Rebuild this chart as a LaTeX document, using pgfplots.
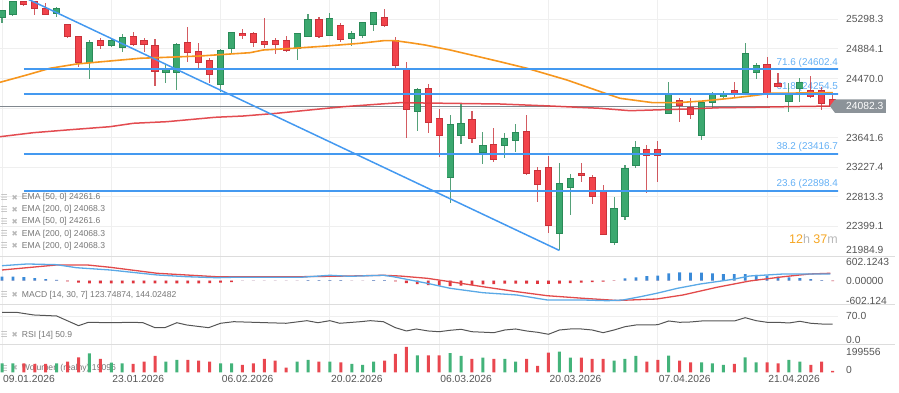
\documentclass[border=0pt]{standalone}
\usepackage{fontspec}
\setmainfont{Liberation Sans}
\newfontfamily\symfont{DejaVu Sans}
\usepackage{pgfplots}
\usepackage{pgfplotstable}
\pgfplotsset{compat=1.18}

\definecolor{cgreen}{HTML}{3BA86F}
\definecolor{cgreenD}{HTML}{2A8A58}
\definecolor{cred}{HTML}{F2434B}
\definecolor{credD}{HTML}{C8323A}
\definecolor{fib}{HTML}{4499F0}
\definecolor{fibtxt}{HTML}{64B0F5}
\definecolor{ema50}{HTML}{F6961E}
\definecolor{ema200}{HTML}{E0393E}
\definecolor{macdb}{HTML}{5AA9E6}
\definecolor{macdr}{HTML}{E24A4A}
\definecolor{histb}{HTML}{3A8AD8}
\definecolor{histr}{HTML}{E0353D}
\definecolor{vgreen}{HTML}{43B37A}
\definecolor{vred}{HTML}{E9474F}
\definecolor{lbl}{HTML}{555555}
\definecolor{leg}{HTML}{777777}
\definecolor{gridc}{HTML}{EFEFEF}
\definecolor{divc}{HTML}{DDDDDD}
\definecolor{pricel}{HTML}{80878E}
\definecolor{pricebox}{HTML}{8C9399}
\definecolor{timer}{HTML}{F5A623}

% up (green) candles
\pgfplotstableread{
i o h l c v
0 25320.7 25428.5 25242.3 25418.7 71500
1 25368.3 25561.5 25344.5 25544.7 71500
5 25382.3 25466.3 25326.3 25452.3 71500
8 24696.3 25008.5 24462.5 24970.7 149800
10 24928.7 25018.3 24906.3 24998.7 76400
11 24906.3 25088.3 24844.7 25040.7 71500
15 24556.3 24658.5 24402.3 24602.5 84200
16 24556.3 24962.3 24308.5 24948.3 97500
20 24388.3 24878.3 24284.7 24858.7 71500
21 24892.3 25124.7 24822.3 25116.3 71500
27 24892.3 25102.3 24728.5 25102.3 84200
28 25064.5 25372.5 25064.5 25288.5 97500
30 25078.5 25382.3 25064.5 25302.5 84200
32 25032.3 25138.7 24928.7 25092.5 66300
33 25078.5 25256.3 25032.3 25256.3 58500
34 25228.3 25396.3 25134.5 25396.3 84200
38 24004.7 24332.3 23738.7 24308.5 134200
41 23080.7 23958.5 22722.3 23828.3 151000
42 23678.5 24112.5 23548.3 23842.3 128700
44 23430.7 23716.3 23268.3 23534.3 115400
46 23528.7 23702.3 23352.3 23626.7 105300
47 23608.5 23832.5 23436.3 23716.3 84200
51 22302.3 23290.7 22068.5 22992.5 162200
52 22946.3 23128.3 22558.5 23066.7 115400
56 22170.7 22814.7 22138.5 22652.3 92000
57 22534.7 23258.5 22488.5 23212.3 105300
58 23258.5 23598.7 23212.3 23506.3 128700
61 23982.3 24424.7 23982.3 24238.5 131000
64 23678.5 24130.7 23608.5 24130.7 79600
65 24130.7 24284.7 24052.3 24248.3 71500
66 24214.7 24298.7 24192.3 24238.5 58500
68 24276.3 24970.7 24276.3 24822.3 118600
69 24550.7 24682.3 24458.3 24644.5 79600
72 24154.5 24402.3 24004.7 24238.5 97500
73 24332.3 24472.3 24144.7 24410.7 84200
}\upc

% down (red) candles
\pgfplotstableread{
i o h l c v
2 25544.7 25561.5 25484.5 25512.5 71500
3 25544.7 25561.5 25358.5 25452.3 66300
4 25442.5 25522.3 25368.3 25368.3 66300
6 25218.5 25218.5 25040.7 25064.5 84200
7 25054.7 25068.7 24634.7 24696.3 118600
9 24998.7 25040.7 24878.3 24928.7 105300
12 25054.7 25116.3 24928.7 24948.3 66300
13 24994.5 25040.7 24844.7 24952.5 84200
14 24928.7 25018.3 24368.7 24564.7 128700
17 24976.3 25186.3 24704.7 24836.3 97500
18 24844.7 24962.3 24612.3 24696.3 92000
19 24718.7 24752.3 24402.3 24532.5 84200
22 25096.7 25158.3 25018.3 25068.7 58500
23 25102.3 25124.7 24906.3 24976.3 71500
24 24980.5 25312.3 24892.3 24952.5 105300
25 24994.5 25040.7 24808.3 24952.5 92000
26 25004.3 25068.7 24844.7 24868.5 37400
29 25288.5 25326.3 25032.3 25064.5 84200
31 25204.5 25242.3 24984.7 25022.5 79600
35 25326.3 25442.5 25194.7 25208.7 92000
36 24998.7 25046.3 24612.3 24648.7 144300
37 24612.3 24696.3 23632.3 24042.5 198900
39 24332.3 24392.5 23702.3 23856.3 134200
40 23912.3 24038.3 23366.3 23668.7 134200
43 23898.3 24014.5 23562.3 23632.3 105300
45 23548.3 23772.3 23304.7 23338.3 105300
48 23724.7 23958.5 23118.5 23142.3 105300
49 23178.7 23226.3 22744.7 22988.3 50700
50 23226.3 23384.5 22302.3 22418.5 154400
53 23142.3 23282.3 23024.7 23111.5 115400
54 23080.7 23118.5 22708.3 22814.7 105300
55 22884.7 22978.5 22278.5 22292.5 105300
59 23468.5 23538.5 22862.3 23388.7 84200
60 23468.5 23598.7 23024.7 23394.3 97500
62 24154.5 24192.3 23864.7 24098.5 92000
63 24060.7 24200.7 23898.3 23968.3 79600
67 24298.7 24424.7 24214.7 24262.3 66300
70 24668.3 24766.3 24192.3 24252.5 79600
71 24402.3 24550.7 24354.7 24364.5 71500
74 24294.5 24508.7 24192.3 24214.7 58500
75 24294.5 24354.7 24028.5 24122.3 84200
76 24168.5 24238.5 24052.3 24082.3 11700
}\downc

% MACD histogram
\pgfplotstableread{
i h
0 120
1 120
2 105
3 75
4 45
5 21
6 -21
7 -60
8 -80
9 -82
10 -80
11 -78
12 -80
13 -82
14 -84
15 -82
16 -80
17 -80
18 -78
19 -75
20 -60
21 -40
22 0
23 0
24 0
25 0
26 0
27 0
28 15
29 15
30 15
31 15
32 0
33 0
34 15
35 15
36 -21
37 -75
38 -105
39 -135
40 -150
41 -165
42 -150
43 -130
44 -111
45 -100
46 -90
47 -90
48 -90
49 -92
50 -96
51 -90
52 -75
53 -60
54 -45
55 -30
56 -9
57 69
58 99
59 141
60 150
61 220
62 250
63 241
64 241
65 220
66 200
67 200
68 200
69 172
70 150
71 120
72 99
73 81
74 51
75 15
76 -15
}\hist

\pgfplotsset{
  panel/.style={
    scale only axis, width=838pt,
    xmin=-0.183, xmax=76.49,
    scaled x ticks=false, scaled y ticks=false,
    axis line style={draw=none}, major tick length=0pt,
    xtick={0,10,...,70}, xticklabels={}, xmajorgrids,
    grid style={color=gridc, line width=0.8pt},
    yticklabel pos=right,
    yticklabel style={anchor=west, inner sep=0pt, xshift=8pt,
      font=\fontsize{10.3}{12}\selectfont, text=lbl},
  },
  wick/.style={draw=none, mark=none, forget plot,
    error bars/.cd, y dir=both, y explicit, error mark=none,
    error bar style={draw=#1, line width=1.1pt, draw opacity=0.8}},
  body/.style 2 args={draw=none, mark=none, forget plot,
    error bars/.cd, y dir=both, y explicit, error mark=none,
    error bar style={draw=#1, line width=#2}},
}

\begin{document}
\begin{tikzpicture}
\useasboundingbox (0pt,0pt) rectangle (899pt,393pt);

% ---------------- main price panel ----------------
\begin{axis}[panel, anchor=south west, at={(0pt,136.5pt)}, height=256.5pt,
  ymin=21977.5, ymax=25568.5,
  ytick={25298.3,24884.1,24470.0,24055.8,23641.6,23227.4,22813.3,22399.1},
  yticklabels={25298.3,24884.1,24470.0,{},23641.6,23227.4,22813.3,22399.1},
  ymajorgrids,
  extra y ticks={21984.9}, extra y tick labels={21984.9},
  extra y tick style={yticklabel style={yshift=6pt}},
]
\addplot[pricel, line width=0.9pt] coordinates {(-1,24082.3) (80,24082.3)};
% fib labels
\node[anchor=base east, inner sep=0pt, text=fibtxt, font=\fontsize{9.9}{12}\selectfont, yshift=4pt] at (axis cs:76.49,24602.4) {71.6 (24602.4};
\node[anchor=base east, inner sep=0pt, text=fibtxt, font=\fontsize{9.9}{12}\selectfont, yshift=4pt] at (axis cs:76.49,24254.5) {61.8 (24254.5};
\node[anchor=base east, inner sep=0pt, text=fibtxt, font=\fontsize{9.9}{12}\selectfont, yshift=4pt] at (axis cs:76.49,23416.7) {38.2 (23416.7};
\node[anchor=base east, inner sep=0pt, text=fibtxt, font=\fontsize{9.9}{12}\selectfont, yshift=4pt] at (axis cs:76.49,22898.4) {23.6 (22898.4};
% timer
\node[anchor=base east, inner sep=0pt, font=\fontsize{12.5}{14}\selectfont] at (axis cs:76.49,22166) {\textcolor{timer}{12}\textcolor{gray!55}{h} \textcolor{timer}{37}\textcolor{gray!55}{m}};
% wicks
\addplot[wick=cgreenD] table[x=i, y expr={(\thisrow{h}+\thisrow{l})/2}, y error expr={(\thisrow{h}-\thisrow{l})/2}] {\upc};
\addplot[wick=credD] table[x=i, y expr={(\thisrow{h}+\thisrow{l})/2}, y error expr={(\thisrow{h}-\thisrow{l})/2}] {\downc};
% bodies (border then fill)
\addplot[body={cgreenD}{7.2pt}] table[x=i, y expr={(\thisrow{o}+\thisrow{c})/2}, y error expr={abs(\thisrow{c}-\thisrow{o})/2+8}] {\upc};
\addplot[body={cgreen}{5.4pt}] table[x=i, y expr={(\thisrow{o}+\thisrow{c})/2}, y error expr={max(abs(\thisrow{c}-\thisrow{o})/2-6,0)}] {\upc};
\addplot[body={credD}{7.2pt}] table[x=i, y expr={(\thisrow{o}+\thisrow{c})/2}, y error expr={abs(\thisrow{c}-\thisrow{o})/2+8}] {\downc};
\addplot[body={cred}{5.4pt}] table[x=i, y expr={(\thisrow{o}+\thisrow{c})/2}, y error expr={max(abs(\thisrow{c}-\thisrow{o})/2-6,0)}] {\downc};
% EMA 200
\addplot[ema200, line width=1.5pt, opacity=0.9] coordinates {
(-0.18,23654.7) (2.86,23710.7) (5.92,23748.5) (9.88,23794.7) (12.01,23842.3) (15.07,23864.7)
(19.49,23926.3) (22.08,23944.5) (25.13,23982.3) (28.79,24038.3) (31.23,24074.7) (34.28,24108.3)
(36.41,24130.7) (45.56,24112.5) (50.14,24084.5) (54.71,24052.3) (57.46,24018.7) (59.56,24028.5)
(62.67,24042.5) (65.69,24060.7) (68.71,24066.3) (71.82,24074.7) (76.03,24084.5)};
% EMA 50
\addplot[ema50, line width=1.6pt] coordinates {
(-0.18,24416.3) (2.26,24518.5) (4.39,24612.3) (6.83,24672.5) (9.88,24714.5) (12.63,24752.3)
(15.07,24766.3) (18.12,24784.5) (19.49,24798.5) (22.69,24830.7) (23.91,24868.5) (26.65,24892.3)
(29.71,24924.5) (32.75,24962.3) (34.89,24998.7) (35.96,24998.7) (37.33,24970.7) (38.70,24938.5)
(41.0,24868.5) (45.56,24704.7) (48.03,24612.3) (51.69,24448.5) (55.63,24238.5) (56.54,24192.3)
(59.56,24130.7) (61.76,24130.7) (64.14,24154.5) (66.61,24192.3) (68.71,24228.7) (70.27,24262.3)
(76.03,24270.7)};
% fibonacci levels
\addplot[fib, line width=2pt] coordinates {(2,24602.4) (80,24602.4)};
\addplot[fib, line width=2pt] coordinates {(2,24254.5) (80,24254.5)};
\addplot[fib, line width=2pt] coordinates {(2,23416.7) (80,23416.7)};
\addplot[fib, line width=2pt] coordinates {(2,22898.4) (80,22898.4)};
% trend line
\addplot[fib, line width=1.5pt] coordinates {(0,25753) (51,22062)};
\coordinate (pl) at (axis cs:76.12,24082.3);
\end{axis}

% current price box
\fill[pricebox] ([xshift=-4pt]pl) -- ([xshift=1pt,yshift=6.7pt]pl) -- ([xshift=52pt,yshift=6.7pt]pl)
  -- ([xshift=52pt,yshift=-6.7pt]pl) -- ([xshift=1pt,yshift=-6.7pt]pl) -- cycle;
\node[text=white, font=\fontsize{10.3}{12}\selectfont, anchor=west, inner sep=0pt] at ([xshift=12pt]pl) {24082.3};

% legend of main panel
\foreach \yy/\tt in {195.3/{EMA [50, 0] 24261.6}, 183.3/{EMA [200, 0] 24068.3}, 171.3/{EMA [50, 0] 24261.6}, 159/{EMA [200, 0] 24068.3}, 147/{EMA [200, 0] 24068.3}} {
  \node[anchor=west, inner sep=0pt, text=gray!55, font=\symfont\fontsize{8}{9}\selectfont] at (0.5pt,\yy pt) {☰};
  \node[anchor=west, inner sep=0pt, text=gray!55, font=\symfont\fontsize{7.5}{9}\selectfont] at (11.5pt,\yy pt) {✖};
  \node[anchor=west, inner sep=0pt, text=leg, font=\fontsize{8.6}{10}\selectfont] at (21.7pt,\yy pt) {\tt};
}

% ---------------- MACD panel ----------------
\begin{axis}[panel, anchor=south west, at={(0pt,88.5pt)}, height=48pt,
  ymin=-716, ymax=728,
  ytick={-602.124,0}, yticklabels={-602.124,0.00000},
  extra y ticks={602.1243}, extra y tick labels={602.1243},
  extra y tick style={yticklabel style={yshift=-1.5pt}},
]
\addplot[ybar, bar width=2.8pt, bar shift=0pt, fill=histb, draw=none] table[x=i, y expr={max(\thisrow{h},0)}] {\hist};
\addplot[ybar, bar width=2.8pt, bar shift=0pt, fill=histr, draw=none] table[x=i, y expr={min(\thisrow{h},0)}] {\hist};
\addplot[macdr, line width=1.3pt] coordinates {
(0,322) (5,473) (7.8,473) (9.9,403) (14.2,223) (19.6,120) (27.3,120) (31.8,141) (34.9,163)
(36.4,141) (38.9,72) (41,-30) (44,-181) (47.1,-331) (49.9,-452) (53.2,-530) (56.3,-595)
(59.9,-551) (62.3,-430) (65.4,-199) (68.4,-9) (71.5,120) (73.9,202) (75.8,223)};
\addplot[macdb, line width=1.3pt] coordinates {
(0,451) (2.3,503) (5,482) (6.8,391) (9.9,322) (14.2,172) (16.9,120) (19.6,90) (21.1,102)
(27.3,102) (30,163) (31.8,132) (34.9,163) (35.8,120) (38.9,-78) (41,-229) (44,-361) (47.1,-430)
(49.9,-581) (53.2,-581) (55.4,-602) (56.8,-581) (58.4,-482) (59.9,-379) (61.8,-229) (63.9,-99)
(66.9,42) (68.4,141) (70,172) (71.5,202) (75.8,202)};
\end{axis}
\node[anchor=west, inner sep=0pt, text=gray!55, font=\symfont\fontsize{8}{9}\selectfont] at (0.5pt,98pt) {☰};
\node[anchor=west, inner sep=0pt, text=gray!55, font=\symfont\fontsize{7.5}{9}\selectfont] at (11.5pt,98pt) {✖};
\node[anchor=west, inner sep=0pt, text=leg, font=\fontsize{8.6}{10}\selectfont] at (21.7pt,98pt) {MACD [14, 30, 7] 123.74874, 144.02482};

% ---------------- RSI panel ----------------
\begin{axis}[panel, anchor=south west, at={(0pt,48.5pt)}, height=40pt,
  ymin=0, ymax=98.2,
  ytick={70}, yticklabels={70.0}, ymajorgrids,
  extra y ticks={0}, extra y tick labels={0.0},
  extra y tick style={yticklabel style={yshift=4.5pt}},
]
\addplot[lbl, line width=1pt] coordinates {
(0,79.1) (1.3,79.1) (2.9,72.5) (5,70.0) (7,46.2) (7.9,54.5) (9.9,53.5) (12,54.5) (12.9,53.5)
(14,41.3) (14.9,41.3) (16,53.5) (16.9,47.9) (18.9,41.3) (20,52.1) (21.2,56.0) (24.2,53.5)
(26,52.1) (27.9,58.5) (28.9,53.5) (30,58.5) (30.9,52.1) (32.8,56.0) (33.7,58.5) (34.9,56.0)
(36,41.3) (37,33.2) (37.9,38.1) (39,33.2) (40,31.4) (41,34.9) (42,37.3) (43,31.4) (45,29.0)
(46,35.6) (47,38.1) (48,33.2) (49,30.0) (50,25.1) (51,35.6) (52,38.1) (53,38.1) (54,35.6)
(55,29.0) (56,35.6) (57,43.7) (58,47.9) (59,47.9) (60,48.6) (61,57.7) (62,54.5) (63,55.3)
(64,57.7) (65,57.7) (66,57.7) (67,57.7) (68,65.8) (69,58.5) (70,54.5) (71,54.5) (72,52.8)
(73,57.0) (74,52.1) (75,50.3) (76,50.3)};
\end{axis}
\node[anchor=west, inner sep=0pt, text=gray!55, font=\symfont\fontsize{8}{9}\selectfont] at (0.5pt,58pt) {☰};
\node[anchor=west, inner sep=0pt, text=gray!55, font=\symfont\fontsize{7.5}{9}\selectfont] at (11.5pt,58pt) {✖};
\node[anchor=west, inner sep=0pt, text=leg, font=\fontsize{8.6}{10}\selectfont] at (21.7pt,58pt) {RSI [14] 50.9};

% ---------------- Volume panel ----------------
\node[anchor=west, inner sep=0pt, text=gray!55, font=\symfont\fontsize{8}{9}\selectfont] at (0.5pt,24.7pt) {☰};
\node[anchor=west, inner sep=0pt, text=gray!55, font=\symfont\fontsize{7.5}{9}\selectfont] at (11.5pt,24.7pt) {✖};
\node[anchor=west, inner sep=0pt, text=leg, font=\fontsize{8.6}{10}\selectfont] at (21.7pt,24.7pt) {Wolumen (realny) 19096};
\begin{axis}[panel, anchor=south west, at={(0pt,20.5pt)}, height=28pt,
  ymin=0, ymax=218400,
  ytick={0}, yticklabels={0},
  yticklabel style={yshift=2.5pt},
  extra y ticks={199556}, extra y tick labels={199556},
  extra y tick style={yticklabel style={yshift=-7.3pt}},
  xticklabels={09.01.2026,23.01.2026,06.02.2026,20.02.2026,06.03.2026,20.03.2026,07.04.2026,21.04.2026},
  xticklabel style={anchor=north west, inner sep=0pt, xshift=1pt, yshift=-3pt,
    font=\fontsize{10.3}{12}\selectfont, text=lbl},
]
\addplot[ybar, bar width=3pt, bar shift=0pt, fill=vgreen, draw=none] table[x=i, y=v] {\upc};
\addplot[ybar, bar width=3pt, bar shift=0pt, fill=vred, draw=none] table[x=i, y=v] {\downc};
\end{axis}

% panel dividers
\draw[divc, line width=1.2pt] (0pt,136.5pt) -- (895pt,136.5pt);
\draw[divc, line width=1.2pt] (0pt,88.5pt) -- (895pt,88.5pt);
\draw[divc, line width=1.2pt] (0pt,48.5pt) -- (895pt,48.5pt);
\end{tikzpicture}
\end{document}
